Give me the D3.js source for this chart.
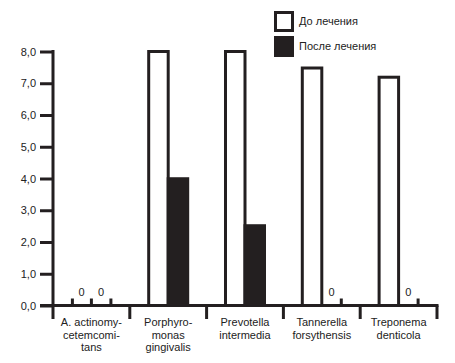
<!DOCTYPE html>
<html>
<head>
<meta charset="utf-8">
<script src="https://cdn.jsdelivr.net/npm/d3@7"></script>
<style>
  body { margin: 0; background: #fff; }
  text { font-family: "Liberation Sans", Arial, sans-serif; fill: #222; }
</style>
</head>
<body>
<div id="chart"></div>
<script>
// data
var categories = [
  ["A. actinomy-", "cetemcomi-", "tans"],
  ["Porphyro-", "monas", "gingivalis"],
  ["Prevotella", "intermedia"],
  ["Tannerella", "forsythensis"],
  ["Treponema", "denticola"]
];
var seriesNames = ["До лечения", "После лечения"];
var before = [0, 8.0, 8.0, 7.48, 7.19];
var after = [0, 4.04, 2.56, 0, 0];
var yTicks = [0, 1, 2, 3, 4, 5, 6, 7, 8];

var svgWidth = 455, svgHeight = 363;
var ink = "#231f20";

var svg = d3.select("#chart").append("svg")
  .attr("width", svgWidth)
  .attr("height", svgHeight);

var rows = categories.map(function(c, i) {
  return { idx: i, lines: c, vals: [before[i], after[i]] };
});

// scales
var x = d3.scaleBand()
  .domain(d3.range(categories.length))
  .range([53, 437])
  .padding(0);

var sub = d3.scaleBand()
  .domain([0, 1])
  .range([x.bandwidth() / 2 - 19.5, x.bandwidth() / 2 + 19.5])
  .padding(0);

var y = d3.scaleLinear()
  .domain([0, 8])
  .range([305.5, 51.5]);

// y axis
var yAxis = d3.axisLeft(y)
  .tickValues(yTicks)
  .tickSize(13)
  .tickPadding(4)
  .tickFormat(d => d3.format(".1f")(d).replace(".", ","));

var gy = svg.append("g")
  .attr("transform", "translate(53,0)")
  .call(yAxis);
gy.select(".domain").remove();
gy.selectAll(".tick line").attr("stroke", ink).attr("stroke-width", 3);
gy.selectAll(".tick text")
  .attr("font-size", "11px")
  .style("font-family", "'Liberation Sans', Arial, sans-serif")
  .attr("fill", "#222");

svg.append("line")
  .attr("x1", 53).attr("x2", 53)
  .attr("y1", y(8) - 1.5).attr("y2", 319)
  .attr("stroke", ink).attr("stroke-width", 3);

// x axis with category separators
svg.append("line")
  .attr("x1", 40).attr("x2", 438.5)
  .attr("y1", y(0)).attr("y2", y(0))
  .attr("stroke", ink).attr("stroke-width", 3);

var seps = d3.range(categories.length + 1).map(i => i < categories.length ? x(i) : x.range()[1]);
svg.selectAll(".sep")
  .data(seps.slice(1))
  .enter().append("line")
  .attr("x1", d => d).attr("x2", d => d)
  .attr("y1", y(0)).attr("y2", 319)
  .attr("stroke", ink).attr("stroke-width", 3);

// category labels
svg.selectAll(".cat")
  .data(rows)
  .enter().append("text")
  .attr("text-anchor", "middle")
  .attr("font-size", "11px")
  .selectAll("tspan")
  .data(d => d.lines.map(l => ({ l: l, cx: x(d.idx) + x.bandwidth() / 2 })))
  .enter().append("tspan")
  .attr("x", d => d.cx)
  .attr("y", (d, i) => 326 + i * 12.5)
  .text(d => d.l);

// bars
var groups = svg.selectAll(".grp")
  .data(rows)
  .enter().append("g")
  .attr("transform", d => "translate(" + x(d.idx) + ",0)");

var cells = groups.selectAll(".cell")
  .data(d => d.vals.map((v, s) => ({ v: v, s: s })))
  .enter().append("g");

// open bars (before)
cells.filter(d => d.s === 0 && d.v > 0)
  .append("rect")
  .attr("x", d => sub(d.s))
  .attr("width", sub.bandwidth())
  .attr("y", d => y(d.v))
  .attr("height", d => y(0) - y(d.v))
  .attr("fill", "#fff")
  .attr("stroke", ink)
  .attr("stroke-width", 3);

// filled bars (after)
cells.filter(d => d.s === 1 && d.v > 0)
  .append("rect")
  .attr("x", d => sub(d.s) - 1.5)
  .attr("width", sub.bandwidth() + 3)
  .attr("y", d => y(d.v))
  .attr("height", d => y(0) - y(d.v))
  .attr("fill", ink);

// zero values: small edge ticks and a "0" label
var zeros = cells.filter(d => d.v === 0);
zeros.append("line")
  .attr("x1", d => sub(d.s) + sub.bandwidth())
  .attr("x2", d => sub(d.s) + sub.bandwidth())
  .attr("y1", y(0)).attr("y2", y(0) - 7)
  .attr("stroke", ink).attr("stroke-width", 3);
zeros.filter(d => d.s === 0)
  .append("line")
  .attr("x1", d => sub(d.s) + 0.5)
  .attr("x2", d => sub(d.s) + 0.5)
  .attr("y1", y(0)).attr("y2", y(0) - 7)
  .attr("stroke", ink).attr("stroke-width", 3);
zeros.append("text")
  .attr("x", d => sub(d.s) + sub.bandwidth() / 2)
  .attr("y", y(0) - 10)
  .attr("text-anchor", "middle")
  .attr("font-size", "11px")
  .text("0");

// legend
var legend = svg.append("g");
legend.append("rect")
  .attr("x", 275.5).attr("y", 12.5)
  .attr("width", 17).attr("height", 18)
  .attr("fill", "#fff").attr("stroke", ink).attr("stroke-width", 3);
legend.append("rect")
  .attr("x", 274).attr("y", 36)
  .attr("width", 20).attr("height", 21)
  .attr("fill", ink);
legend.selectAll(".lt")
  .data(seriesNames)
  .enter().append("text")
  .attr("x", 299)
  .attr("y", (d, i) => 24.5 + i * 25)
  .attr("font-size", "11px")
  .text(d => d);
</script>
</body>
</html>
